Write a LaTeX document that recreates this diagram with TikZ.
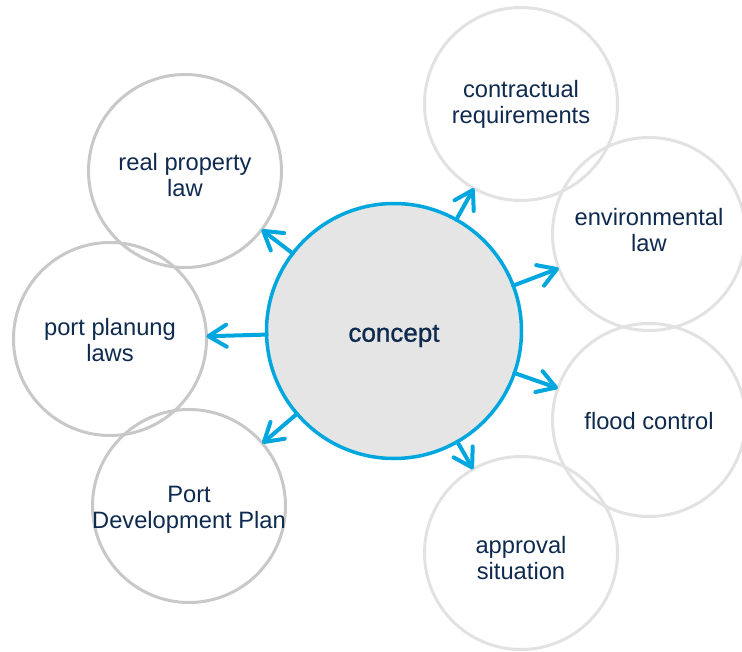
\documentclass[tikz,border=0pt]{standalone}
\usepackage{fontspec}
\setmainfont{Liberation Sans}
\newfontfamily\conceptfont[FakeBold=1]{Liberation Sans}
\usetikzlibrary{arrows.meta}
\definecolor{cblue}{HTML}{00A6DE}
\definecolor{ctext}{HTML}{0E2A4F}
\definecolor{gdark}{HTML}{C8C8C8}
\definecolor{glight}{HTML}{E2E2E2}
\definecolor{cfill}{HTML}{E5E5E5}
\begin{document}
\begin{tikzpicture}[x=1pt,y=-1pt,
  lbl/.style={font=\fontsize{23.7}{26}\selectfont, text=ctext, align=center},
  outerL/.style={circle, draw=gdark, line width=3pt, minimum size=193pt, inner sep=0pt, outer sep=0pt, lbl},
  outerR/.style={circle, draw=glight, line width=3pt, minimum size=193pt, inner sep=0pt, outer sep=0pt, lbl},
  arr/.style={draw=cblue, line width=4pt, line cap=round,
    -{Straight Barb[length=18pt, width=22pt, line cap=round, line join=round]}}
]
\useasboundingbox (0,0) rectangle (742,652);
\node[outerL] (rp) at (185,171) {};
\node[outerL] (pp) at (110,339) {};
\node[outerL] (pd) at (189,506) {};
\node[outerR] (cr) at (521,104) {};
\node[outerR] (el) at (649,234) {};
\node[outerR] (fc) at (649,420) {};
\node[outerR] (as) at (521,553) {};
\node[lbl] (rpt) at (185,175) {real property\\law};
\node[lbl] (ppt) at (110,340) {port planung\\laws};
\node[lbl] (pdt) at (189,510) {Port\\Development Plan};
\node[lbl] (crt) at (521,104) {contractual\\requirements};
\node[lbl] (elt) at (649,230.5) {environmental\\law};
\node[lbl] (fct) at (649,421) {flood control};
\node[lbl] (ast) at (521,558) {approval\\situation};
\node[circle, draw=cblue, fill=cfill, line width=3.5pt, minimum size=255pt, inner sep=0pt, outer sep=0pt] (c) at (394,331) {};
\node[font=\conceptfont\fontsize{26}{30}\selectfont, text=ctext] (ct) at (394,336) {concept};
\foreach \t in {rp,pp,pd,cr,el,fc,as}{
  \draw[arr] (c) -- (\t);
}
\end{tikzpicture}
\end{document}
